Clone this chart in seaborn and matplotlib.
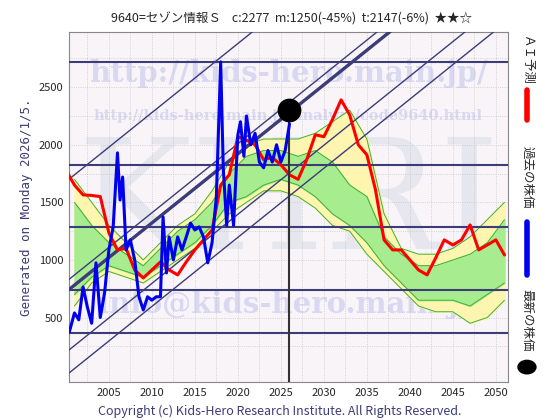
import numpy as np
import pandas as pd
import matplotlib
matplotlib.use("Agg")
import matplotlib.pyplot as plt
import seaborn as sns

# データ
ai_years = list(range(2000, 2052))
ai_values = [1780, 1650, 1565, 1560, 1550, 1235, 1087, 1100, 913, 843,
             913, 983, 913, 870, 983, 1087, 1174, 1260, 1650, 1740,
             2070, 2040, 2000, 1870, 1890, 1826, 1740, 1700, 1870, 2087,
             2070, 2220, 2390, 2260, 2000, 1913, 1610, 1174, 1087, 1087,
             1000, 913, 870, 1017, 1174, 1130, 1174, 1304, 1087, 1130,
             1174, 1043]

past_years = [2000.4, 2001, 2001.5, 2002, 2002.5, 2003, 2003.5, 2004, 2004.5, 2005,
              2005.5, 2006, 2006.3, 2006.6, 2007, 2007.5, 2008, 2008.5, 2009, 2009.5,
              2010, 2010.5, 2011, 2011.3, 2011.7, 2012, 2012.5, 2013, 2013.5, 2014,
              2014.5, 2015, 2015.5, 2016, 2016.5, 2017, 2017.5, 2018, 2018.3, 2018.7,
              2019, 2019.5, 2020, 2020.3, 2020.7, 2021, 2021.5, 2022, 2022.5, 2023,
              2023.5, 2024, 2024.5, 2025, 2025.5, 2026]
past_values = [374, 540, 480, 765, 590, 450, 975, 500, 713, 1087,
               1287, 1930, 1520, 1720, 1087, 1174, 1000, 680, 565, 680,
               650, 680, 680, 1374, 887, 1200, 1000, 1200, 1087, 1200,
               1320, 1260, 1287, 1200, 975, 1150, 1550, 2720, 1800, 1300,
               1650, 1300, 2087, 2200, 1900, 2250, 2000, 2100, 1850, 1800,
               1950, 1850, 2000, 1850, 1950, 2180]

band_years = list(range(2001, 2052, 2))
yellow_lo = [600, 800, 900, 850, 800, 900, 1000, 1100, 1250, 1400, 1500, 1600, 1600,
             1550, 1450, 1300, 1250, 1050, 900, 750, 600, 550, 550, 450, 500, 650]
green_lo = [700, 850, 950, 900, 850, 950, 1050, 1150, 1300, 1500, 1550, 1650, 1700,
            1650, 1550, 1400, 1300, 1150, 950, 800, 650, 650, 650, 600, 700, 800]
green_hi = [1500, 1300, 1150, 1050, 950, 1100, 1250, 1350, 1500, 1750, 1900, 1950, 1950,
            1900, 1950, 1850, 1650, 1550, 1200, 1050, 950, 950, 1000, 1050, 1150, 1350]
yellow_hi = [1700, 1500, 1300, 1150, 1000, 1150, 1300, 1400, 1600, 1850, 2000, 2050, 2050,
             2050, 2100, 2200, 2300, 2050, 1400, 1100, 1050, 1050, 1100, 1200, 1350, 1500]

h_levels = [2722, 1826, 1287, 739, 365]
diag_start = [1700, 830, 742, 217, 17]   # 2000.35 時点の値
diag_width = [1.0, 1.0, 2.4, 1.0, 1.0]
diag_slope = 60
latest_year, latest_value = 2026, 2300

navy = "#3c3c78"
sns.set_style("white")
plt.rcParams['font.family'] = ['Noto Sans CJK JP', 'DejaVu Sans']

fig = plt.figure(figsize=(5.6, 4.2), dpi=100)
fig.patch.set_facecolor("white")
ax = fig.add_axes([0.123, 0.0905, 0.784, 0.8335])
ax.set_facecolor("#f8f4f8")
x0, x1 = 2000.35, 2051.4
ax.set_xlim(x0, x1)
ax.set_ylim(-60, 2980)

# ウォーターマーク
ax.text(0.5, 0.5, "KHRI", transform=ax.transAxes, fontsize=110, family="DejaVu Serif",
        color="#e6e6ee", ha="center", va="center", zorder=0)
ax.text(0.5, 0.88, "http://kids-hero.main.jp/", transform=ax.transAxes, fontsize=21,
        family="DejaVu Serif", weight="bold", color="#d8d8f2", ha="center", va="center", zorder=0)
ax.text(0.5, 0.76, "http://kids-hero.main.jp/analyze/code9640.html", transform=ax.transAxes,
        fontsize=10.5, family="DejaVu Serif", weight="bold", color="#d8d8f2", ha="center", va="center", zorder=0)
ax.text(0.5, 0.22, "info@kids-hero.main.jp", transform=ax.transAxes, fontsize=21,
        family="DejaVu Serif", weight="bold", color="#d8d8f2", ha="center", va="center", zorder=0)

# グリッド
for gx in np.arange(2002.5, 2051, 2.5):
    ax.axvline(gx, color="#c8c8c8", lw=0.6, ls=":", zorder=1)
for gy in range(250, 3000, 250):
    ax.axhline(gy, color="#c8c8c8", lw=0.6, ls=":", zorder=1)

# 予測バンド
ax.fill_between(band_years, yellow_lo, yellow_hi, color="#fdf5b0", zorder=2)
ax.fill_between(band_years, green_lo, green_hi, color="#a8ec90", zorder=2)
for arr in (yellow_lo, green_lo, green_hi, yellow_hi):
    ax.plot(band_years, arr, color="#40b030", lw=0.7, zorder=3)

# 水平線・斜線
for lv in h_levels:
    ax.axhline(lv, color=navy, lw=1.5, zorder=4)
xs = np.array([x0, x1])
for s, w in zip(diag_start, diag_width):
    ax.plot(xs, s + diag_slope * (xs - x0), color=navy, lw=w, zorder=4)

sns.lineplot(x=ai_years, y=ai_values, color="red", lw=2.2, ax=ax, zorder=5)
sns.lineplot(x=past_years, y=past_values, color="#0000ee", lw=2.2, ax=ax, zorder=6)
ax.plot([latest_year, latest_year], [-60, latest_value], color="#333333", lw=1.5, zorder=5)
ax.scatter([latest_year], [latest_value], s=260, color="black", zorder=7)

ax.set_xticks(range(2005, 2051, 5))
ax.set_yticks(range(500, 2501, 500))
ax.tick_params(labelsize=8, length=3, pad=1, color="#666666")
for sp in ax.spines.values():
    sp.set_color("#888888")
ax.set_ylabel("Generated on Monday 2026/1/5.", color=navy, fontsize=9, family="DejaVu Sans Mono")

fig.text(0.52, 0.955, "9640=セゾン情報Ｓ    c:2277  m:1250(-45%)  t:2147(-6%)  ★★☆",
         ha="center", va="center", fontsize=9)
fig.text(0.5, 0.02, "Copyright (c) Kids-Hero Research Institute. All Rights Reserved.",
         ha="center", va="center", fontsize=9, color=navy)

# 凡例（右側縦書き）
fig.text(0.941, 0.857, "ＡＩ予測", rotation=270, ha="center", va="center", fontsize=9)
fig.add_artist(plt.Line2D([0.941, 0.941], [0.714, 0.786], color="red", lw=4))
fig.text(0.941, 0.577, "過去の株価", rotation=270, ha="center", va="center", fontsize=9)
fig.add_artist(plt.Line2D([0.941, 0.941], [0.345, 0.471], color="#0000ee", lw=4))
fig.text(0.941, 0.238, "最新の株価", rotation=270, ha="center", va="center", fontsize=9)
fig.add_artist(plt.Circle((0.941, 0.126), 0.016, transform=fig.transFigure, color="black"))

fig.savefig("out.png", dpi=100)
